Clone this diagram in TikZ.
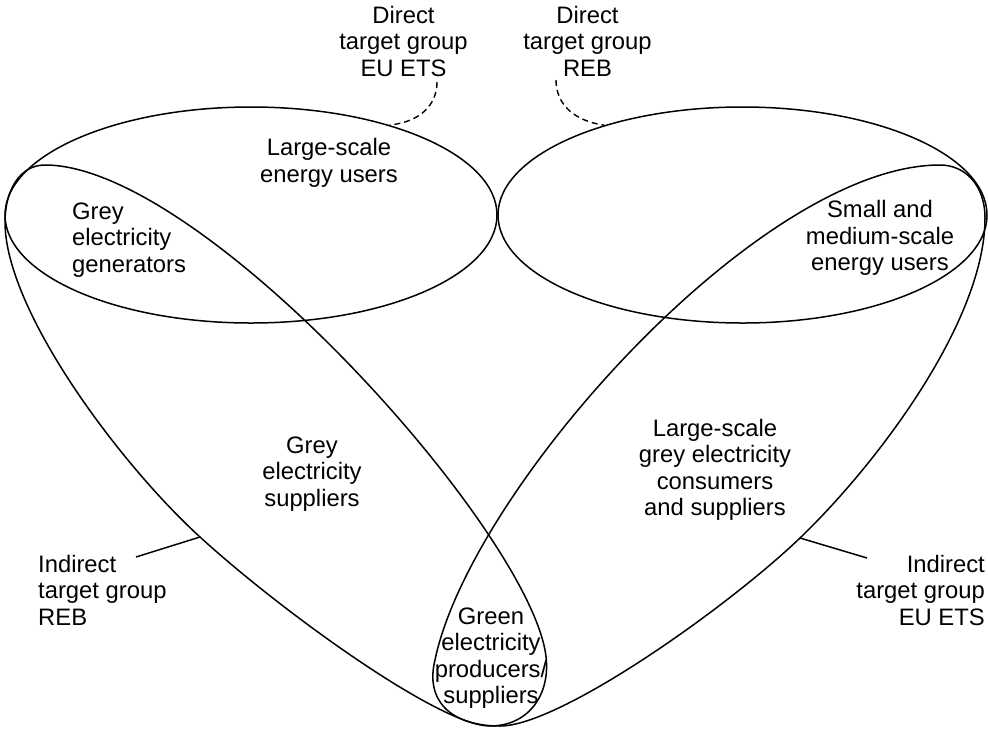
\documentclass[tikz,border=0pt]{standalone}
\usepackage{fontspec}
\setmainfont{Liberation Sans}
\usetikzlibrary{shapes.geometric}
\begin{document}
\begin{tikzpicture}[x=1pt, y=-1pt]
\tikzstyle{areatext}=[align=center, font=\fontsize{23.8}{26.5}\selectfont, inner sep=0pt]
\tikzstyle{bigset}=[ellipse, draw, line width=1.5pt, minimum width=492pt, minimum height=216pt, inner sep=0pt]
\tikzstyle{loopline}=[line width=1.5pt]
\tikzstyle{hintline}=[line width=1.4pt, dash pattern=on 6pt off 4pt]
\useasboundingbox (0,0) rectangle (988,729);
% direct target groups
\node[bigset] (ellL) at (251,215) {};
\node[bigset, minimum width=489pt] (ellR) at (742.5,215) {};
% indirect target groups
\draw[loopline] (5,222) .. controls (5,190) and (20,165) .. (45,165)
  .. controls (200,165) and (520,520) .. (545,650)
  .. controls (553,692) and (530,726) .. (490,726)
  .. controls (440,726) and (281,611) .. (200,537) coordinate (edgeL)
  .. controls (119,463) and (5,310) .. (5,222) -- cycle;
\draw[loopline] (985,218) .. controls (985,185) and (965,165) .. (940,165)
  .. controls (760,165) and (470,490) .. (435,660)
  .. controls (425,700) and (450,726) .. (500,726)
  .. controls (560,726) and (728,607) .. (800,538) coordinate (edgeR)
  .. controls (879,462) and (985,320) .. (985,218) -- cycle;
% texts
\node[areatext] (dirEts) at (403.5,41) {Direct\\target group\\EU ETS};
\node[areatext] (dirReb) at (587.5,41) {Direct\\target group\\REB};
\node[areatext] (largeUsers) at (329,163) {Large-scale\\energy users};
\node[areatext, align=left, anchor=west] (greyGen) at (72,240) {Grey\\electricity\\generators};
\node[areatext] (smallUsers) at (880,238) {Small and\\medium-scale\\energy users};
\node[areatext] (greySup) at (312,474) {Grey\\electricity\\suppliers};
\node[areatext] (largeCons) at (715,470) {Large-scale\\grey electricity\\consumers\\and suppliers};
\node[areatext] (green) at (491,658) {Green\\electricity\\producers/\\suppliers};
\node[areatext, align=left, anchor=west] (indReb) at (38,590) {Indirect\\target group\\REB};
\node[areatext, align=right, anchor=east] (indEts) at (985,590) {Indirect\\target group\\EU ETS};
% pointers
\coordinate (etsTip) at (437,82);
\coordinate (rebTip) at (556,80);
\draw[hintline] (etsTip) .. controls (437,105) and (420,122) .. (ellL.33.5);
\draw[hintline] (rebTip) .. controls (556,105) and (575,121) .. (ellR.147);
\coordinate (rebTipI) at (136,557);
\coordinate (etsTipI) at (867,558);
\draw[loopline] (rebTipI) -- (edgeL);
\draw[loopline] (etsTipI) -- (edgeR);
\end{tikzpicture}
\end{document}
